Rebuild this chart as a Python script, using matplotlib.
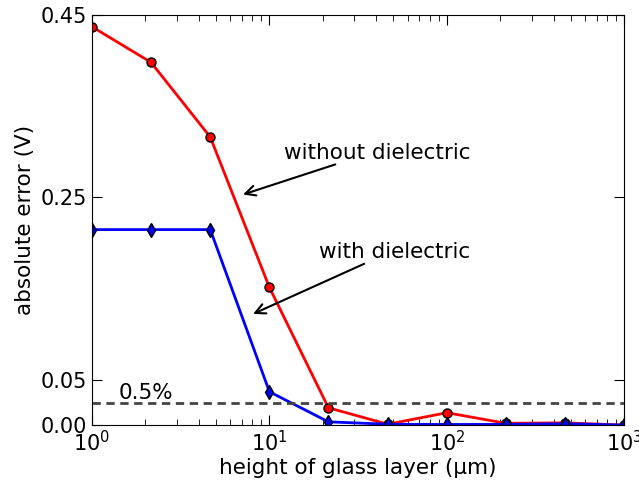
import numpy as np
import matplotlib
matplotlib.use('Agg')
import matplotlib.pyplot as plt

# glass layer heights (um), log spaced
heights = [1.0, 2.15, 4.64, 10.0, 21.5, 46.4, 100.0, 215.0, 464.0, 1000.0]
err_without = [0.437, 0.398, 0.316, 0.151, 0.019, 0.001, 0.0136, 0.002, 0.0025, 0.0]
err_with = [0.2145, 0.2145, 0.2145, 0.0366, 0.0036, 0.001, 0.0007, 0.0008, 0.0015, 0.0]
threshold = 0.0242

plt.rcParams.update({'font.size': 15, 'font.family': 'DejaVu Sans'})
fig = plt.figure(figsize=(6.39, 4.82), dpi=100)
ax = fig.add_axes([0.144, 0.118, 0.833, 0.851])

ax.plot(heights, err_without, '-o', color='red', lw=2, ms=6.5, mec='k', mfc='red')
ax.plot(heights, err_with, '-d', color='blue', lw=2, ms=7.5, mec='k', mfc='blue')
ax.axhline(threshold, color='#444444', ls='--', lw=2, dashes=(3, 2))
ax.text(1.42, 0.0286, '0.5%', fontsize=15.5)

# labels and arrows
ax.text(12.1, 0.292, 'without dielectric', fontsize=15.5)
ax.annotate('', xy=(7.1, 0.253), xytext=(23.5, 0.286),
            arrowprops=dict(arrowstyle='->', lw=1.5, color='k',
                            shrinkA=0, shrinkB=0, mutation_scale=18))
ax.text(19.1, 0.183, 'with dielectric', fontsize=15.5)
ax.annotate('', xy=(8.09, 0.122), xytext=(34.2, 0.177),
            arrowprops=dict(arrowstyle='->', lw=1.5, color='k',
                            shrinkA=0, shrinkB=0, mutation_scale=18))

ax.set_xscale('log')
ax.set_xlim(1, 1000)
ax.set_ylim(0, 0.45)
ax.set_yticks([0.0, 0.05, 0.25, 0.45])
ax.set_yticklabels(['0.00', '0.05', '0.25', '0.45'])
ax.tick_params(which='both', direction='in', top=True, right=True)
ax.tick_params(which='major', length=7, labelsize=15)
ax.tick_params(which='minor', length=4)
ax.set_xlabel('height of glass layer (\u00b5m)', fontsize=15.5, labelpad=2)
ax.set_ylabel('absolute error (V)', fontsize=15.5, labelpad=4)

fig.savefig('out.png', dpi=100)
